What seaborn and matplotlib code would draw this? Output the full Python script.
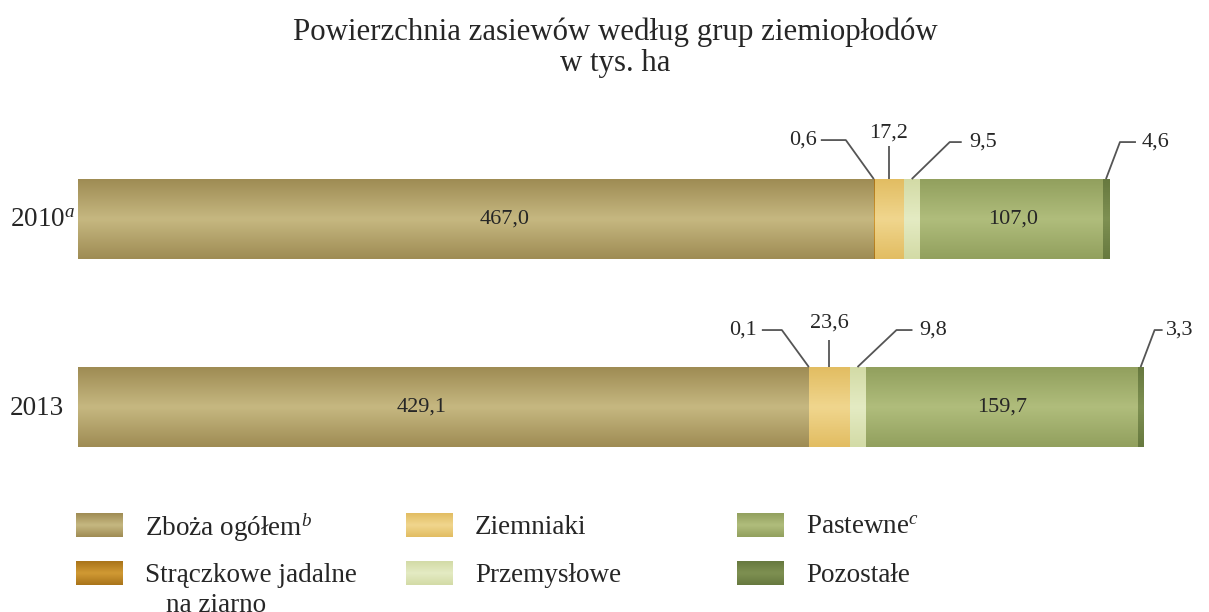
# Powierzchnia zasiewów według grup ziemiopłodów - wykres słupkowy skumulowany
import numpy as np
import pandas as pd
import seaborn as sns
import matplotlib.pyplot as plt
from matplotlib.colors import LinearSegmentedColormap

# Dane
years = ['2010$^a$', '2013']
categories = ['Zboża ogółem$^b$', 'Strączkowe jadalne\nna ziarno', 'Ziemniaki',
              'Przemysłowe', 'Pastewne$^c$', 'Pozostałe']
zboza = [467.0, 429.1]
straczkowe = [0.6, 0.1]
ziemniaki = [17.2, 23.6]
przemyslowe = [9.5, 9.8]
pastewne = [107.0, 159.7]
pozostale = [4.6, 3.3]
values = [zboza, straczkowe, ziemniaki, przemyslowe, pastewne, pozostale]

# kolory (ciemny brzeg, jasny środek)
colors = [('#9f8c54', '#c6b881'), ('#a9741a', '#d19a34'), ('#e2bd62', '#f0d68e'),
          ('#d3dba6', '#e4ebc3'), ('#92a05e', '#b0bd7c'), ('#67793f', '#7e9052')]

sns.set_style('white')
plt.rcParams['font.family'] = ['Liberation Serif', 'DejaVu Serif']
plt.rcParams['mathtext.fontset'] = 'custom'
plt.rcParams['mathtext.rm'] = 'Liberation Serif'
plt.rcParams['mathtext.it'] = 'Liberation Serif:italic'
txt = '#262626'


def gradient(axis, x0, x1, y0, y1, i, z, clip=None):
    dark, light = colors[i]
    cmap = LinearSegmentedColormap.from_list('g', [dark, light, dark])
    grad = np.linspace(0, 1, 64).reshape(-1, 1)
    im = axis.imshow(grad, cmap=cmap, aspect='auto', extent=(x0, x1, y1, y0),
                     zorder=z, interpolation='bicubic')
    if clip is not None:
        im.set_clip_path(clip)
    return im


# dane w formie długiej, z sumą skumulowaną
rows = []
for cat, vals in zip(categories, values):
    for y, v in zip(years, vals):
        rows.append({'rok': y, 'grupa': cat, 'wartosc': v})
df = pd.DataFrame(rows)
df['koniec'] = df.groupby('rok', sort=False)['wartosc'].cumsum()
df['start'] = df['koniec'] - df['wartosc']

fig = plt.figure(figsize=(12.09, 6.12), dpi=100)
ax = fig.add_axes([78 / 1209, 1 - 470 / 612, 1124 / 1209, 350 / 612])

bar_h = 80 / 188
groups = {}
# rysowanie od najszerszego do najwęższego (sumy skumulowane)
for i in range(len(categories) - 1, -1, -1):
    cat = categories[i]
    sub = df[df['grupa'] == cat]
    n0 = len(ax.patches)
    sns.barplot(data=sub, x='koniec', y='rok', orient='h', color=colors[i][1],
                saturation=1, width=bar_h, linewidth=0, ax=ax, order=years)
    groups[cat] = ax.patches[n0:]

# gradient na segmentach
z = 2
for i in range(len(categories) - 1, -1, -1):
    for p in groups[categories[i]]:
        x0, y0 = p.get_x(), p.get_y()
        gradient(ax, x0, x0 + p.get_width(), y0, y0 + p.get_height(), i, z, clip=p)
        p.set_visible(False)
    z += 1
ax.set_xlim(0, 660)
ax.set_ylim(1.335, -0.527)

sns.despine(ax=ax, left=True, bottom=True)
ax.set_xticks([])
ax.set_yticks([])
ax.set_xlabel('')
ax.set_ylabel('')

# etykiety lat
for yi, y in enumerate(years):
    ax.text(-68 / 1.703, yi + 0.01, y, ha='left', va='center', fontsize=19.5, color=txt)


def fmt(v):
    return f'{v:.1f}'.replace('.', ',')


inv = ax.transData.inverted()

# etykiety wewnątrz dużych segmentów (przesunięcie w pikselach)
inner = {(0, 0): 29, (1, 0): -22, (0, 4): 2, (1, 4): 0}
for (yi, ci), off in inner.items():
    r = df[(df['grupa'] == categories[ci]) & (df['rok'] == years[yi])].iloc[0]
    bx, by = ax.transData.transform((r['start'] + r['wartosc'] / 2, yi))
    tx, ty = inv.transform((bx + off, by))
    ax.text(tx, ty, fmt(r['wartosc']), ha='center', va='center', fontsize=16,
            color=txt, zorder=20)

# linie odniesienia (przesunięcia w pikselach obrazu)
leaders = {
    (0, 1): ([(0, 0), (-28, -39), (-53, -39)], (-57, -39), 'right'),
    (0, 2): ([(0, 0), (0, -33)], (0, -46), 'center'),
    (0, 3): ([(0, 0), (38, -37), (50, -37)], (58, -37), 'left'),
    (0, 5): ([(0, 0), (14, -37), (30, -37)], (36, -37), 'left'),
    (1, 1): ([(0, 0), (-27, -37), (-47, -37)], (-52, -37), 'right'),
    (1, 2): ([(0, 0), (0, -27)], (0, -44), 'center'),
    (1, 3): ([(0, 0), (39, -37), (55, -37)], (62, -37), 'left'),
    (1, 5): ([(0, 0), (14, -37), (22, -37)], (25, -37), 'left'),
}
for (yi, ci), (pts, tpos, ha) in leaders.items():
    r = df[(df['grupa'] == categories[ci]) & (df['rok'] == years[yi])].iloc[0]
    bx, by = ax.transData.transform((r['start'] + r['wartosc'] / 2, yi - bar_h / 2))
    line = [inv.transform((bx + dx, by - dy)) for dx, dy in pts]
    ax.plot([p[0] for p in line], [p[1] for p in line], color='#555555', lw=1.3,
            zorder=15, solid_capstyle='butt')
    tx, ty = inv.transform((bx + tpos[0], by - tpos[1]))
    ax.text(tx, ty, fmt(r['wartosc']), ha=ha, va='center', fontsize=16, color=txt)

# tytuł
fig.text(615 / 1209, 1 - 32 / 612, 'Powierzchnia zasiewów według grup ziemiopłodów',
         ha='center', va='center', fontsize=22.2, color=txt)
fig.text(615 / 1209, 1 - 64 / 612, 'w tys. ha', ha='center', va='center',
         fontsize=22.2, color=txt)

# legenda w osobnych osiach (współrzędne w pikselach)
lax = fig.add_axes([0, 0, 1, 130 / 612])
lax.set_xlim(0, 1209)
lax.set_ylim(612, 482)
lax.axis('off')
col_x = [76, 406, 737]
row_y = [525, 573]
for i, cat in enumerate(categories):
    x, y = col_x[i // 2], row_y[i % 2]
    gradient(lax, x, x + 47, y - 12, y + 12, i, 2)
    if '\n' in cat:
        a, b = cat.split('\n')
        lax.text(x + 69, y + 3, a, ha='left', va='center', fontsize=19.5, color=txt)
        lax.text(x + 90, y + 32, b, ha='left', va='center', fontsize=19.5, color=txt)
    else:
        lax.text(x + 69, y + 3, cat, ha='left', va='center', fontsize=19.5, color=txt)
lax.set_xlim(0, 1209)
lax.set_ylim(612, 482)

plt.savefig('out.png', dpi=100)
